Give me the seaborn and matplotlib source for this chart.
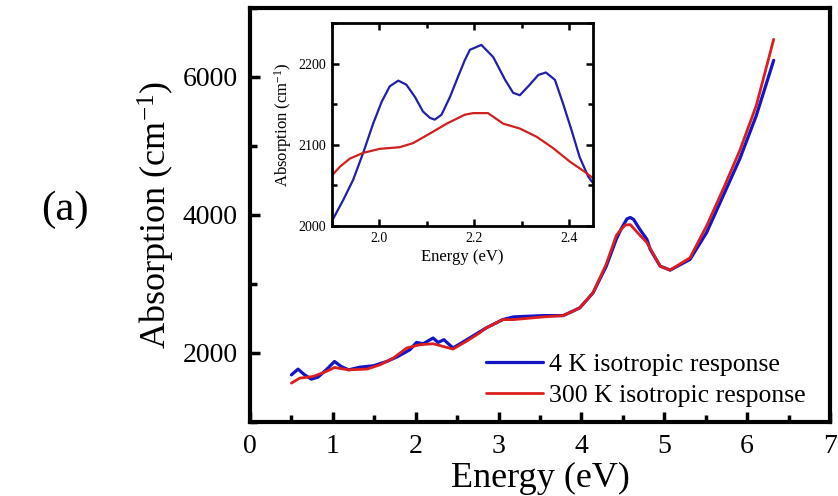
import numpy as np
import pandas as pd
import seaborn as sns
import matplotlib.pyplot as plt
from matplotlib.ticker import MultipleLocator

# main panel: absorption vs energy
e_4k = [0.50, 0.58, 0.66, 0.74, 0.82, 0.92, 1.02, 1.10, 1.19, 1.33, 1.49, 1.65, 1.77, 1.93,
        2.01, 2.09, 2.21, 2.27, 2.34, 2.45, 2.65, 2.85, 3.05, 3.18, 3.54, 3.78, 3.98, 4.14,
        4.30, 4.42, 4.48, 4.55, 4.59, 4.63, 4.70, 4.79, 4.83, 4.95, 5.07, 5.31, 5.51, 5.71,
        5.91, 6.11, 6.32]
a_4k = [1683, 1766, 1683, 1621, 1650, 1756, 1877, 1805, 1756, 1795, 1815, 1877, 1941, 2047,
        2153, 2134, 2217, 2153, 2193, 2072, 2217, 2363, 2484, 2523, 2542, 2542, 2654, 2872,
        3259, 3647, 3800, 3945, 3963, 3935, 3800, 3647, 3502, 3259, 3201, 3356, 3744, 4277,
        4811, 5441, 6241]

e_300k = [0.50, 0.60, 0.76, 0.92, 1.02, 1.19, 1.41, 1.57, 1.73, 1.89, 2.05, 2.21, 2.33, 2.45,
          2.61, 2.77, 2.85, 3.05, 3.18, 3.54, 3.78, 3.98, 4.14, 4.30, 4.42, 4.47, 4.53, 4.59,
          4.68, 4.79, 4.95, 5.07, 5.31, 5.51, 5.71, 5.91, 6.11, 6.32]
a_300k = [1563, 1636, 1659, 1732, 1790, 1756, 1767, 1829, 1926, 2072, 2120, 2134, 2095, 2057,
          2168, 2290, 2363, 2484, 2484, 2523, 2542, 2654, 2872, 3290, 3700, 3780, 3855, 3860,
          3740, 3600, 3259, 3201, 3380, 3841, 4374, 4932, 5586, 6546]

# inset: zoom on 1.9 - 2.45 eV
ins_e_4k = [1.901, 1.924, 1.945, 1.966, 1.987, 2.005, 2.022, 2.040, 2.057, 2.075, 2.092,
            2.107, 2.117, 2.131, 2.149, 2.166, 2.180, 2.191, 2.215, 2.240, 2.265, 2.282,
            2.296, 2.317, 2.335, 2.351, 2.370, 2.387, 2.405, 2.422, 2.440, 2.450]
ins_a_4k = [2007, 2032, 2057, 2090, 2126, 2153, 2172, 2179, 2174, 2159, 2141,
            2133, 2131, 2137, 2159, 2184, 2204, 2217, 2223, 2208, 2180, 2164,
            2161, 2174, 2186, 2189, 2180, 2151, 2118, 2085, 2061, 2053]

ins_e_300k = [1.900, 1.917, 1.938, 1.966, 2.001, 2.043, 2.071, 2.107, 2.142, 2.180, 2.198,
              2.229, 2.261, 2.296, 2.331, 2.366, 2.402, 2.432, 2.450]
ins_a_300k = [2062, 2073, 2083, 2090, 2095, 2097, 2102, 2114, 2126, 2137, 2139,
              2139, 2126, 2120, 2110, 2096, 2079, 2067, 2059]

blue = "#1414c8"
red = "#dc1e1e"

sns.set_style("ticks")
plt.rcParams['font.family'] = ['Liberation Serif', 'DejaVu Serif']
plt.rcParams['mathtext.fontset'] = 'custom'
plt.rcParams['mathtext.rm'] = 'Liberation Serif'
plt.rcParams['mathtext.default'] = 'rm'
plt.rcParams['text.color'] = 'black'
plt.rcParams['axes.labelcolor'] = 'black'
plt.rcParams['axes.edgecolor'] = 'black'
plt.rcParams['xtick.color'] = 'black'
plt.rcParams['ytick.color'] = 'black'

fig = plt.figure(figsize=(8.38, 4.96), dpi=100)
ax = fig.add_axes([0.2983, 0.1492, 0.6922, 0.8347])

df4 = pd.DataFrame({"Energy": e_4k, "Absorption": a_4k})
df300 = pd.DataFrame({"Energy": e_300k, "Absorption": a_300k})
sns.lineplot(data=df4, x="Energy", y="Absorption", ax=ax, color=blue, lw=2.3,
             sort=False, label="4 K isotropic response")
sns.lineplot(data=df300, x="Energy", y="Absorption", ax=ax, color=red, lw=2.0,
             sort=False, label="300 K isotropic response")

ax.set_xlim(0, 7)
ax.set_ylim(1000, 7000)
ax.set_xticks(range(0, 8))
ax.xaxis.set_minor_locator(MultipleLocator(0.5))
ax.set_yticks([2000, 4000, 6000])
ax.yaxis.set_minor_locator(MultipleLocator(1000))
ax.tick_params(which='both', direction='in', width=2.5, labelsize=20)
ax.tick_params(axis='y', which='both', pad=9)
ax.tick_params(axis='x', which='both', pad=9)
ax.tick_params(which='major', length=7)
ax.tick_params(which='minor', length=5)
for sp in ax.spines.values():
    sp.set_visible(True)
    sp.set_linewidth(3)
ax.set_xlabel("Energy (eV)", fontsize=26, labelpad=2)
ax.set_ylabel("Absorption (cm$^{-1}$)", fontsize=26, labelpad=4)

ax.legend(loc='lower right', bbox_to_anchor=(0.985, 0.0), frameon=False, fontsize=18.5,
          handlelength=2.2, handletextpad=0.25, labelspacing=0.3, borderaxespad=0.2)

# inset
axi = fig.add_axes([0.396, 0.5444, 0.3115, 0.4093])
sns.lineplot(x=ins_e_4k, y=ins_a_4k, ax=axi, color="#2020a8", lw=1.6, sort=False)
sns.lineplot(x=ins_e_300k, y=ins_a_300k, ax=axi, color="#d02020", lw=1.6, sort=False)
axi.set_xlim(1.9, 2.45)
axi.set_ylim(2000, 2250)
axi.set_xticks([2.0, 2.2, 2.4])
axi.set_xticklabels(["2.0", "2.2", "2.4"])
axi.xaxis.set_minor_locator(MultipleLocator(0.1))
axi.set_yticks([2000, 2100, 2200])
axi.yaxis.set_minor_locator(MultipleLocator(50))
axi.tick_params(which='both', direction='in', width=1.8, labelsize=10,
                top=True, right=True, pad=4)
axi.tick_params(which='major', length=5)
axi.tick_params(which='minor', length=3.5)
for sp in axi.spines.values():
    sp.set_visible(True)
    sp.set_linewidth(2)
axi.set_xlabel("Energy (eV)", fontsize=12, labelpad=3)
axi.set_ylabel("Absorption (cm$^{-1}$)", fontsize=12, labelpad=3)

fig.text(0.077, 0.577, "(a)", fontsize=31, ha='center', va='center')

fig.savefig("out.png", dpi=100)
